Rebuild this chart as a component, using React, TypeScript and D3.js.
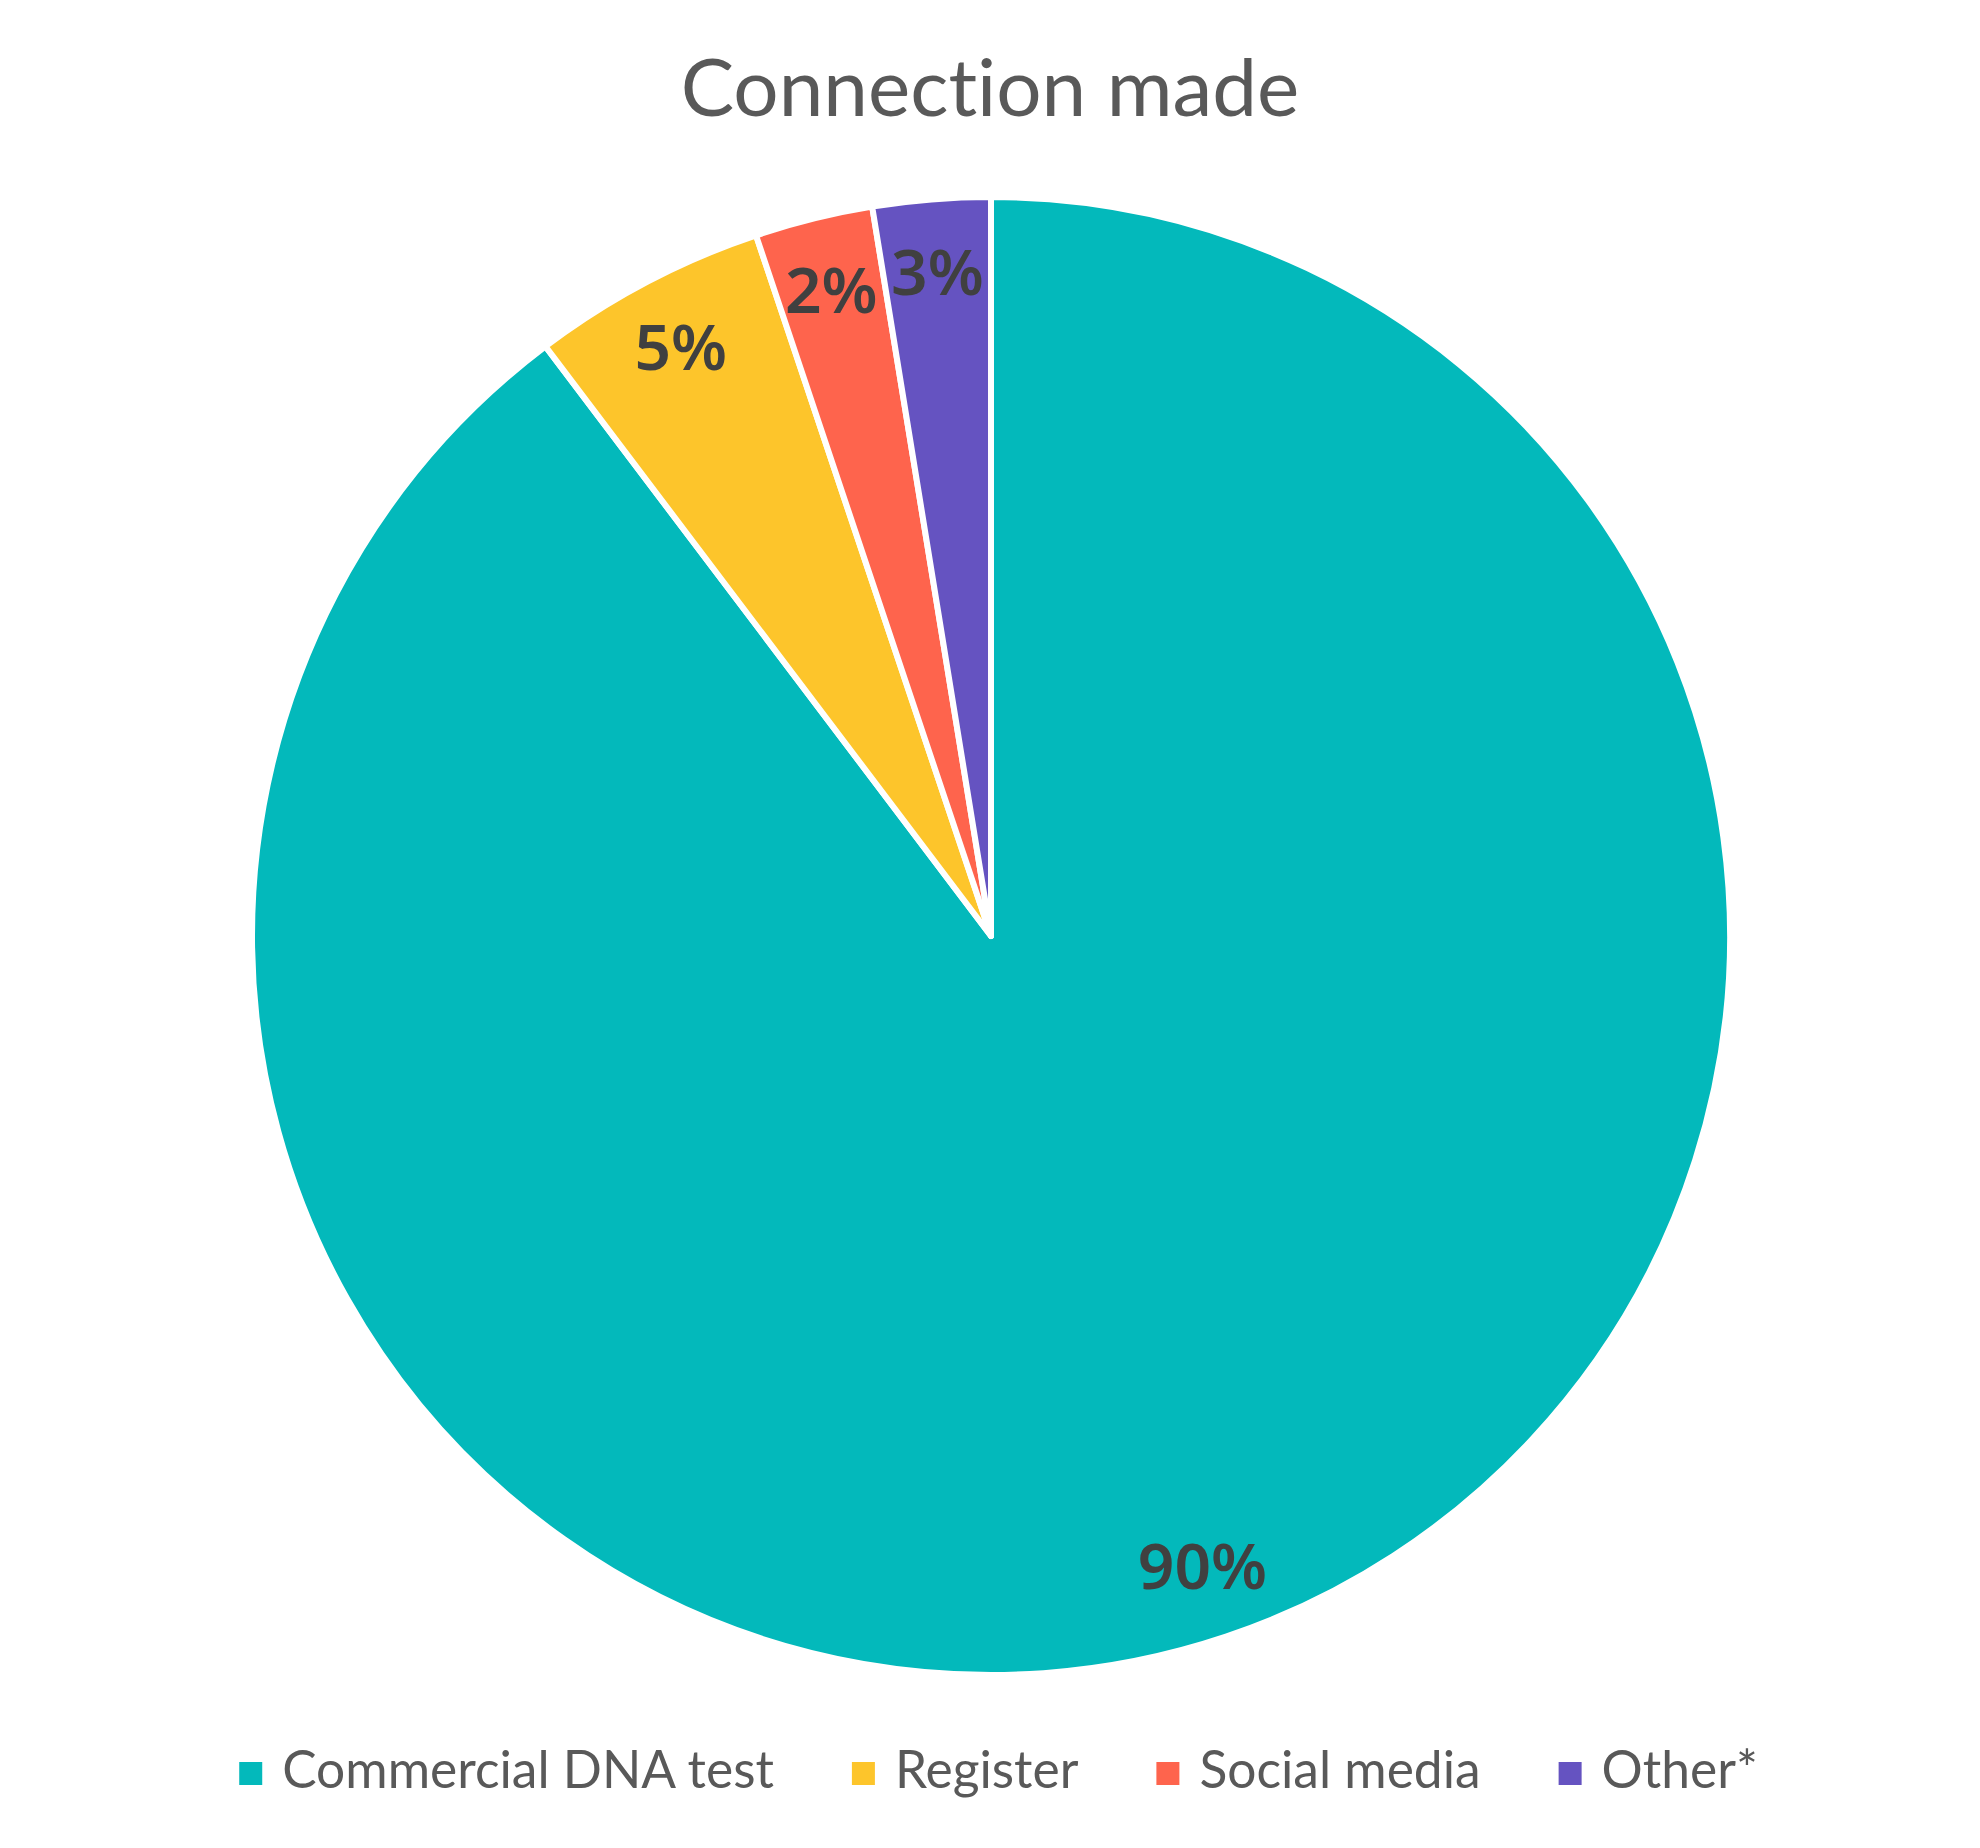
import React, { useEffect, useRef } from "react";
import * as d3 from "d3";

const categories = ["Commercial DNA test", "Register", "Social media", "Other*"];
const values = [89.7, 5.15, 2.58, 2.57];
const valueLabels = ["90%", "5%", "2%", "3%"];
const colors = ["#03B9BB", "#FDC52B", "#FE644D", "#6553C1"];
const title = "Connection made";

const W = 1980;
const H = 1848;

export default function App() {
  const ref = useRef<SVGSVGElement>(null);

  useEffect(() => {
    const svg = d3.select(ref.current);
    svg.selectAll("*").remove();

    const cx = 991;
    const cy = 936;
    const r = 739;

    svg
      .append("text")
      .attr("x", 990)
      .attr("y", 116)
      .attr("text-anchor", "middle")
      .attr("font-family", "Lato, 'Open Sans', sans-serif")
      .attr("font-size", 80)
      .style("font-variant-ligatures", "none")
      .style("font-feature-settings", "'liga' 0")
      .attr("fill", "#595959")
      .text(title);

    const data = categories.map((c, i) => ({ c, v: values[i], label: valueLabels[i], color: colors[i] }));
    const pie = d3
      .pie<any>()
      .sort(null)
      .value((d: any) => d.v)
      .startAngle(0)
      .endAngle(Math.PI * 2);
    const arcs = pie(data);
    const arc = d3.arc<any>().innerRadius(0).outerRadius(r);
    const labelArc = d3.arc<any>().innerRadius(r * 0.9).outerRadius(r * 0.9);

    const g = svg.append("g").attr("transform", `translate(${cx},${cy})`);
    g.selectAll("path")
      .data(arcs)
      .join("path")
      .attr("d", arc as any)
      .attr("fill", (d: any) => d.data.color)
      .attr("stroke", "#ffffff")
      .attr("stroke-width", 6)
      .attr("stroke-linejoin", "round");

    g.selectAll("text.lbl")
      .data(arcs)
      .join("text")
      .attr("class", "lbl")
      .attr("transform", (d: any) => {
        const [x, y] = labelArc.centroid(d);
        return `translate(${x},${y})`;
      })
      .attr("text-anchor", "middle")
      .attr("dy", "0.35em")
      .attr("font-family", "'Noto Sans', 'Open Sans', sans-serif")
      .attr("font-weight", 600)
      .attr("font-size", 64)
      .attr("fill", "#404040")
      .text((d: any) => d.data.label);

    // legend
    const lg = svg.append("g");
    const sq = 23;
    const gapText = 20;
    const gapItem = 78;
    const items = lg
      .selectAll("g.item")
      .data(data)
      .join("g")
      .attr("class", "item");
    items
      .append("rect")
      .attr("width", sq)
      .attr("height", sq)
      .attr("y", 1762)
      .attr("fill", (d: any) => d.color);
    items
      .append("text")
      .attr("x", sq + gapText)
      .attr("y", 1788)
      .attr("font-family", "Lato, 'Open Sans', sans-serif")
      .attr("font-size", 51.5)
      .attr("fill", "#595959")
      .text((d: any) => d.c);
    const widths: number[] = [];
    items.each(function () {
      const t = d3.select(this).select("text").node() as SVGTextElement;
      widths.push(sq + gapText + t.getComputedTextLength());
    });
    const total = d3.sum(widths) + gapItem * (widths.length - 1);
    let x = 998.5 - total / 2;
    items.attr("transform", (_d: any, i: number) => {
      const tx = x;
      x += widths[i] + gapItem;
      return `translate(${tx},0)`;
    });
  }, []);

  return (
    <svg
      ref={ref}
      width={W}
      height={H}
      style={{ position: "absolute", left: 0, top: 0, display: "block", background: "#fff" }}
    />
  );
}
